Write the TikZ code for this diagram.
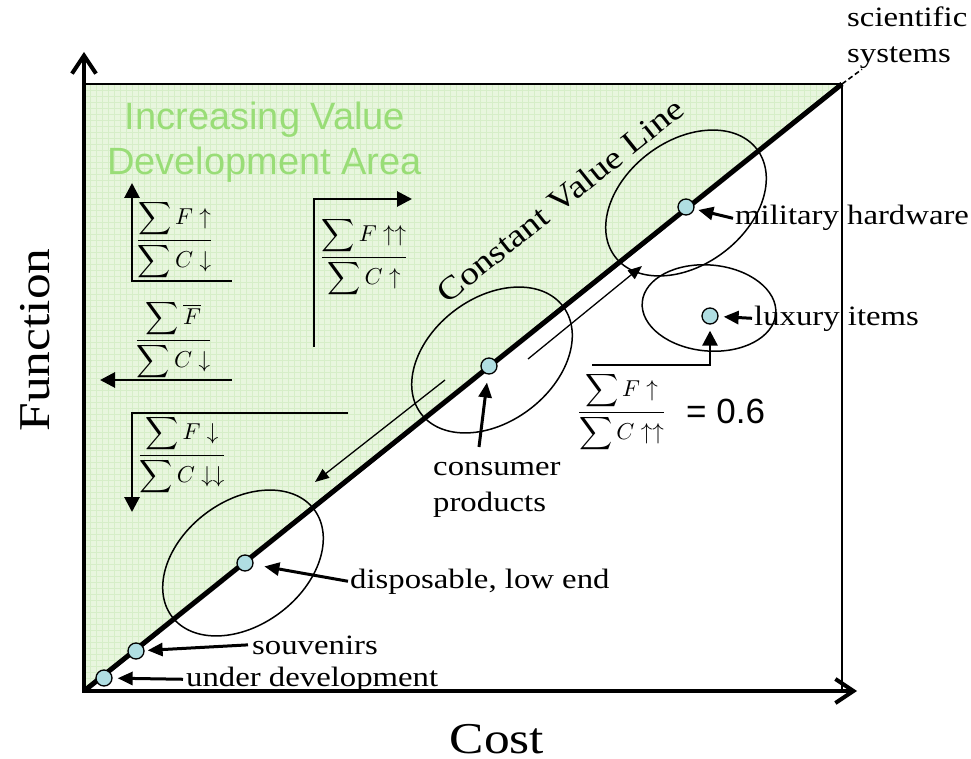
\RequirePackage{fix-cm}
\documentclass[tikz,border=0pt]{standalone}
\usepackage{amsmath}
\usepackage{graphicx}
\usepackage{fontspec}
\setmainfont{Liberation Serif}[FakeStretch=1.17]
\newfontfamily\arialf{Liberation Sans}
\usetikzlibrary{arrows.meta,calc}
\definecolor{areagreen}{RGB}{232,246,222}
\definecolor{gridgreen}{RGB}{214,238,200}
\definecolor{titlegreen}{RGB}{153,221,119}
\definecolor{dotblue}{RGB}{176,222,226}
\newcommand{\bigfrac}[2]{\scalebox{2.3}{$\dfrac{\displaystyle\sum #1}{\displaystyle\sum #2}$}}
\tikzset{
  axisline/.style={line width=4pt, line join=miter, {Straight Barb[length=18pt,width=24pt]}-{Straight Barb[length=18pt,width=24pt]}},
  boxline/.style={line width=1.6pt},
  cvline/.style={line width=5pt},
  thinarrow/.style={line width=1.3pt, -{Triangle[length=14pt,width=11pt]}},
  lblarrow/.style={line width=3pt, -{Triangle[length=15pt,width=13pt]}},
  brk/.style={line width=2.8pt},
  brktip/.style={-{Triangle[length=15pt,width=15pt]}},
  brktipstart/.style={{Triangle[length=15pt,width=15pt]}-},
  dotnode/.style={circle, draw, line width=1.3pt, fill=dotblue, minimum size=16pt, inner sep=0pt},
  lbl/.style={font=\fontsize{28}{34}\selectfont, inner sep=0pt, anchor=base west},
  fracnode/.style={inner sep=0pt, anchor=base},
  ellline/.style={line width=1.5pt},
  titletext/.style={font=\arialf\fontsize{38}{44}\selectfont, text=titlegreen, anchor=base, inner sep=0pt}
}
\begin{document}
\begin{tikzpicture}[x=1pt,y=-1pt]
\useasboundingbox (0,0) rectangle (971,759);
\coordinate (orig) at (84,691);
\coordinate (topc) at (842,84);
\coordinate (tl) at (84,84);
\coordinate (br) at (842,691);
\coordinate (yend) at (84,52);
\coordinate (xend) at (857,691);
% green area
\fill[areagreen] (tl) -- (topc) -- (orig) -- cycle;
\begin{scope}
\clip (tl) -- (topc) -- (orig) -- cycle;
\foreach \i in {0,...,127} { \draw[gridgreen, line width=0.5pt] ({84+6*\i},84) -- ({84+6*\i},691); }
\foreach \i in {0,...,102} { \draw[gridgreen, line width=0.5pt] (84,{84+6*\i}) -- (842,{84+6*\i}); }
\end{scope}
% frame
\draw[boxline] (tl) -- (topc) -- (br);
% title
\node[titletext] (t1) at (265,130) {Increasing Value};
\node[titletext] (t2) at (264.5,175) {Development Area};
% fractions and brackets
\draw[brk, brktipstart] (132,183) -- (132,281) -- (232,281);
\draw[brk, brktip] (232,380) -- (100,380);
\draw[brk, brktip] (348,413) -- (132,413) -- (132,512);
\draw[brk, brktip] (314,347) -- (314,199) -- (412,199);
\node[fracnode] (f1) at (174.5,245.75) {\bigfrac{F\uparrow}{C\downarrow}};
\node[fracnode] (f2) at (173.5,345.75) {\bigfrac{\overline{F}}{C\downarrow}};
\node[fracnode] (f3) at (182,460.75) {\bigfrac{F\downarrow}{C\downarrow\downarrow}};
\node[fracnode] (f4) at (364,262.75) {\bigfrac{F\uparrow\uparrow}{C\uparrow}};
\node[fracnode] (f5) at (621.5,417.75) {\bigfrac{F\uparrow}{C\uparrow\uparrow}};
\node[anchor=base west, font=\arialf\fontsize{35}{40}\selectfont, inner sep=0pt] (f5val) at (686,423) {= 0.6};
% ellipses
\draw[ellline, rotate around={37:(243,563)}] (243,563) ellipse [x radius=89pt, y radius=62pt];
\draw[ellline, rotate around={37:(492,360)}] (492,360) ellipse [x radius=89pt, y radius=62pt];
\draw[ellline, rotate around={37:(686,203)}] (686,203) ellipse [x radius=89pt, y radius=62pt];
\draw[ellline, rotate around={-5:(709,308)}] (709,308) ellipse [x radius=67pt, y radius=43pt];
% constant value line
\draw[cvline] (orig) -- (topc);
\node[font=\fontsize{32}{38}\selectfont, rotate=38.7, inner sep=0pt] (cvl) at (560,200) {Constant Value Line};
% thin arrows along the line
\coordinate (ua1) at (528,359); \coordinate (ua2) at (642,266);
\draw[thinarrow] (ua1) -- (ua2);
\coordinate (la1) at (445,380); \coordinate (la2) at (315,482);
\draw[thinarrow] (la1) -- (la2);
% axes
\draw[axisline] (yend) -- (orig) -- (xend);
% dots
\node[dotnode] (dunder) at (104,678) {};
\node[dotnode] (dsouv) at (136,651) {};
\node[dotnode] (ddisp) at (245,563) {};
\node[dotnode] (dcons) at (489,366) {};
\node[dotnode] (dmil) at (686,207) {};
\node[dotnode] (dlux) at (710,316) {};
% labels
\node[lbl] (lunder) at (186,686) {under development};
\node[lbl] (lsouv) at (252,654) {souvenirs};
\node[lbl] (ldisp) at (350,588) {disposable, low end};
\node[lbl] (lcons) at (433,475) {consumer};
\node[lbl] (lprod) at (433,511) {products};
\node[lbl] (lmil) at (735,225) {military hardware};
\node[lbl] (llux) at (754,325) {luxury items};
\node[lbl] (lsci) at (847,27) {scientific};
\node[lbl] (lsys) at (847,63) {systems};
% label arrows
\draw[lblarrow, shorten >=5pt] ([xshift=-3pt]lunder.west) -- (dunder);
\draw[lblarrow, shorten >=3pt] ([xshift=-4pt]lsouv.west) -- (dsouv);
\draw[lblarrow, shorten >=11pt] ([xshift=-2pt]ldisp.west) -- (ddisp);
\coordinate (cstart) at (479,447);
\draw[lblarrow, shorten >=8pt] (cstart) -- (dcons);
\draw[lblarrow, shorten >=4pt] ([xshift=-2pt]lmil.west) -- (dmil);
\draw[lblarrow, shorten >=5pt] ([xshift=-2pt]llux.west) -- (dlux);
\coordinate (fstart) at (592,365);
\draw[brk, brktip, shorten >=6pt] (fstart) -| (dlux);
\draw[boxline, dash pattern=on 5pt off 3pt] (topc) -- ([xshift=15pt]lsys.south west);
% axis titles
\node[font=\fontsize{44}{50}\selectfont, anchor=base, inner sep=0pt] (cost) at (497,753) {Cost};
\node[font=\fontsize{44}{50}\selectfont, anchor=base, rotate=90, inner sep=0pt] (func) at (49,340) {Function};
\end{tikzpicture}
\end{document}
